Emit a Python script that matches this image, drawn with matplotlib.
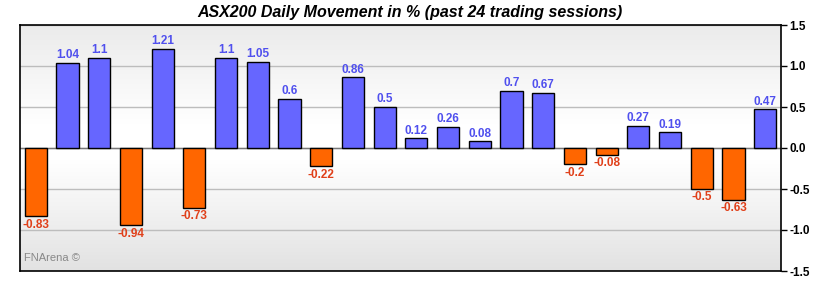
import numpy as np
import matplotlib.pyplot as plt
from matplotlib.colors import LinearSegmentedColormap

plt.rcParams["font.family"] = ["Liberation Sans", "DejaVu Sans"]

# daily movement in %, past 24 sessions
sessions = list(range(1, 25))
moves = [-0.83, 1.04, 1.1, -0.94, 1.21, -0.73, 1.1, 1.05, 0.6, -0.22, 0.86, 0.5,
         0.12, 0.26, 0.08, 0.7, 0.67, -0.2, -0.08, 0.27, 0.19, -0.5, -0.63, 0.47]
y_ticks = [-1.5, -1.0, -0.5, 0.0, 0.5, 1.0, 1.5]

fig = plt.figure(figsize=(8.2, 2.9), dpi=100)
ax = fig.add_axes([20 / 820, 19 / 290, 761 / 820, 246 / 290])

# background gradient: grey top -> white middle -> grey bottom
bg = LinearSegmentedColormap.from_list("bg", [(0, "#e2e2e2"), (0.45, "#ffffff"),
                                              (0.6, "#ffffff"), (1, "#ebebeb")])
grad = np.linspace(0, 1, 256).reshape(-1, 1)
ax.imshow(grad, aspect="auto", cmap=bg, extent=[0.5, 24.5, -1.5, 1.5],
          origin="lower", zorder=0)

for y in y_ticks:
    ax.axhline(y, color="#bdbdbd", lw=1, zorder=1)
ax.axhline(0, color="#777777", lw=1, zorder=1)

colors = ["#6666ff" if v >= 0 else "#ff6600" for v in moves]
ax.bar(sessions, moves, width=0.7, color=colors, edgecolor="black", lw=1, zorder=2)

for x, v in zip(sessions, moves):
    label = f"{v:g}"
    if v >= 0:
        ax.text(x, v + 0.02, label, ha="center", va="bottom", fontsize=8.5,
                fontweight="bold", color="#5050ee", zorder=3)
    else:
        ax.text(x, v - 0.03, label, ha="center", va="top", fontsize=8.5,
                fontweight="bold", color="#e0401a", zorder=3)

ax.set_xlim(0.5, 24.5)
ax.set_ylim(-1.5, 1.5)
ax.set_xticks([])
ax.yaxis.tick_right()
ax.set_yticks(y_ticks)
ax.set_yticklabels([f"{t:.1f}" for t in y_ticks], fontsize=8.5, fontweight="bold")
ax.tick_params(axis="y", length=4, width=1, pad=2)
for s in ax.spines.values():
    s.set_linewidth(1.2)

ax.text(0.63, -1.34, "FNArena ©", fontsize=8, color="#888888",
        ha="left", va="center")

fig.text(410 / 820, 1 - 12 / 290, "ASX200 Daily Movement in % (past 24 trading sessions)",
         ha="center", va="center", fontsize=11.5, fontweight="bold", style="italic")

fig.savefig("out.png", dpi=100)
